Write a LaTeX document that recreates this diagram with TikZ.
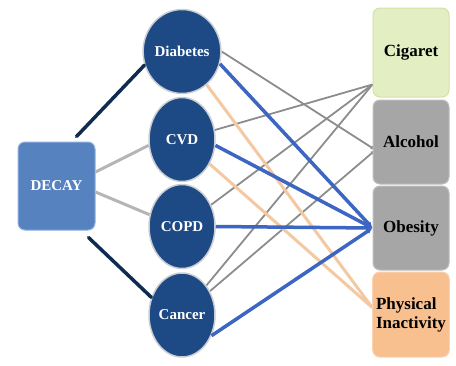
\documentclass[tikz,border=0pt]{standalone}
\usepackage{fontspec}
\setmainfont{Liberation Serif}
\usetikzlibrary{arrows.meta,shapes.geometric,backgrounds}

\definecolor{navy}{HTML}{1D4A85}
\definecolor{ringgray}{HTML}{C9CDD3}
\definecolor{decayblue}{HTML}{5682BF}
\definecolor{decayedge}{HTML}{8FB0DD}
\definecolor{darknavy}{HTML}{0F2B50}
\definecolor{lightline}{HTML}{B5B5B5}
\definecolor{midline}{HTML}{8C8C8C}
\definecolor{linkblue}{HTML}{3C66C2}
\definecolor{peach}{HTML}{F4C9A2}
\definecolor{cigfill}{HTML}{E3EEC2}
\definecolor{cigedge}{HTML}{D2E2A4}
\definecolor{boxgray}{HTML}{A6A6A6}
\definecolor{boxgrayedge}{HTML}{BEBEBE}
\definecolor{physfill}{HTML}{F8BF8F}
\definecolor{physedge}{HTML}{FBD3B1}

\tikzset{
  illness/.style={ellipse,fill=navy,draw=ringgray,line width=1.5pt,
    minimum width=66pt,minimum height=84pt,inner sep=0pt,text=white,
    font=\fontsize{15}{17}\selectfont\bfseries},
  factor/.style={rectangle,rounded corners=7pt,minimum width=76pt,
    minimum height=84pt,line width=1pt,align=left,
    font=\fontsize{17}{19}\selectfont\bfseries},
  navyline/.style={draw=darknavy,line width=3.5pt,line cap=round},
  decayline/.style={draw=lightline,line width=3pt},
  thinline/.style={draw=midline,line width=1.8pt},
  blueline/.style={draw=linkblue,line width=3.5pt},
  peachline/.style={draw=peach,line width=3pt},
}

\begin{document}
\begin{tikzpicture}[x=1pt,y=-1pt]
  \useasboundingbox (0,0) rectangle (456,365);

  % left box
  \node[rectangle,rounded corners=7pt,fill=decayblue,draw=decayedge,line width=1pt,
    minimum width=77pt,minimum height=88pt,text=white,
    font=\fontsize{15}{17}\selectfont\bfseries] (decay) at (56.5,186) {DECAY};

  % diseases
  \node[illness] (diab) at (182,51.5) {Diabetes};
  \node[illness] (cvd) at (182,139.5) {CVD};
  \node[illness] (copd) at (182,226.5) {COPD};
  \node[illness] (canc) at (182,315) {Cancer};

  % risk factors
  \node[factor,fill=cigfill,draw=cigedge,minimum height=89pt] (cig) at (411,52.5) {Cigaret};
  \node[factor,fill=boxgray,draw=boxgrayedge] (alc) at (411,142) {Alcohol};
  \node[factor,fill=boxgray,draw=boxgrayedge] (obe) at (411,228) {Obesity};
  \node[factor,fill=physfill,draw=physedge,minimum height=85pt] (phys) at (411,314.5) {Physical\\Inactivity};

  \coordinate (cigin) at ([yshift=13pt]cig.south west);
  \coordinate (alcin) at ([shift={(3,8)}]alc.west);
  \coordinate (physin) at ([yshift=7pt]phys.west);

  \draw[navyline] ([shift={(-19,-5)}]decay.north east) -- (diab.200);
  \draw[navyline] ([shift={(-7,7)}]decay.south east) -- (canc.150);
  \draw[decayline] ([yshift=14pt]decay.east) -- (cvd.190);
  \draw[decayline] ([yshift=-6pt]decay.east) -- (copd.160);

  \begin{scope}[on background layer]
    \draw[thinline,-{Latex[length=5pt,width=4pt]}] (diab.east) -- (alcin);
    \draw[thinline] (cvd) -- (cigin);
    \draw[thinline] (copd) -- (cigin);
    \draw[thinline] (canc) -- (cigin);
    \draw[thinline,-{Latex[length=5pt,width=4pt]}] (canc) -- (alcin);
    \draw[peachline] (diab) -- (physin);
    \draw[peachline] (cvd) -- (physin);
  \end{scope}

  \draw[blueline,-{Latex[length=6pt,width=6pt]}] (diab.-18) -- (obe.west);
  \draw[blueline,-{Latex[length=6pt,width=6pt]}] (cvd.-10) -- (obe.west);
  \draw[blueline,-{Latex[length=6pt,width=6pt]}] (copd.east) -- (obe.west);
  \draw[blueline,-{Latex[length=6pt,width=6pt]}] (canc.-35) -- (obe.west);
\end{tikzpicture}
\end{document}
